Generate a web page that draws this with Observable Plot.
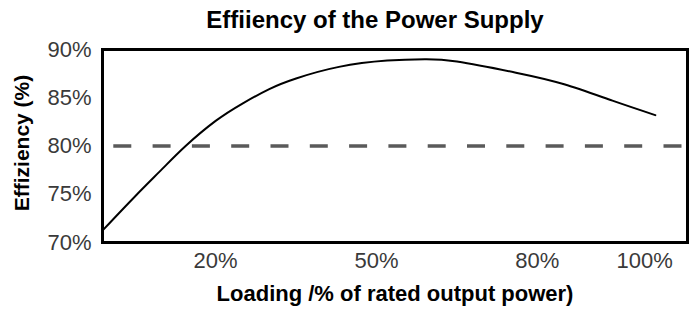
<!DOCTYPE html>
<html>
<head>
<meta charset="utf-8">
<script src="https://cdn.jsdelivr.net/npm/d3@7"></script>
<script src="https://cdn.jsdelivr.net/npm/@observablehq/plot@0.6"></script>
<style>
  body { margin: 0; background: #fff; font-family: "Liberation Sans", Arial, sans-serif; }
  #title { position: relative; top: 5px; height: 30px; line-height: 30px; font-size: 24px; font-weight: bold; color: #000; text-align: center; width: 692px; padding-left: 58px; box-sizing: border-box; white-space: nowrap; z-index: 1; }
  svg { display: block; }
</style>
</head>
<body>
<div id="title">Effiiency of the Power Supply</div>
<div id="chart"></div>
<script>
// Loading (% of rated output power) and efficiency (%)
const loading    = [-1, 5, 10, 14.4, 20, 25, 30, 35, 43, 52, 59, 65, 76, 85, 94, 102];
const efficiency = [71.3, 74.8, 77.6, 80.0, 82.6, 84.4, 85.9, 87.0, 88.2, 88.85, 89.0, 88.75, 87.6, 86.4, 84.7, 83.2];
const threshold = [80];
const xTicks = [20, 50, 80, 100];
const yTicks = [70, 75, 80, 85, 90];
const xLabel = "Loading /% of rated output power)";
const yLabel = "Effiziency (%)";

const data = loading.map((l, i) => ({loading: l, eff: efficiency[i]}));
const pct = d => d + "%";

const chart = Plot.plot({
  width: 692,
  height: 279,
  marginLeft: 102,
  marginRight: 5,
  marginTop: 19,
  marginBottom: 67,
  style: {fontFamily: "'Liberation Sans', Arial, sans-serif", fontSize: "22px", color: "#3a3a3a", background: "transparent"},
  x: {domain: [-1.1, 108], label: null},
  y: {domain: [70, 90], label: null},
  marks: [
    Plot.ruleY(threshold, {stroke: "#5a5a5a", strokeWidth: 3.5, strokeDasharray: "18,21.3", strokeDashoffset: 28}),
    Plot.line(data, {x: "loading", y: "eff", stroke: "#000", strokeWidth: 2, curve: "natural"}),
    Plot.frame({stroke: "#000", strokeWidth: 3}),
    Plot.axisX({ticks: xTicks, tickFormat: pct, tickSize: 0, tickPadding: 10, fontSize: 22, fill: "#3a3a3a", label: null}),
    Plot.axisY({ticks: yTicks, tickFormat: pct, tickSize: 0, tickPadding: 11, fontSize: 22, fill: "#3a3a3a", label: null}),
    Plot.text([xLabel], {frameAnchor: "bottom", lineAnchor: "middle", dy: 51, fontSize: 22, fontWeight: "bold", fill: "#000"}),
    Plot.text([yLabel], {frameAnchor: "left", textAnchor: "middle", lineAnchor: "middle", rotate: -90, dx: -80, dy: -3, fontSize: 21, fontWeight: "bold", fill: "#000"})
  ]
});
document.getElementById("chart").appendChild(chart);
</script>
</body>
</html>
